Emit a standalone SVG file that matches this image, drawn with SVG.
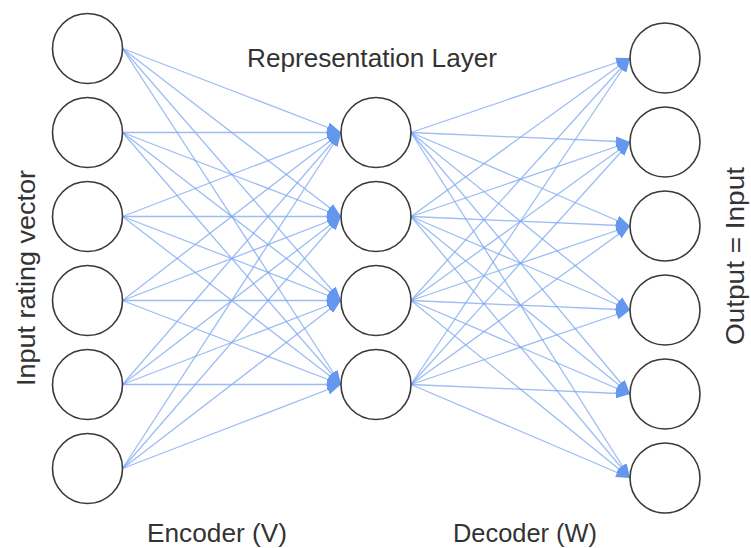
<svg xmlns="http://www.w3.org/2000/svg" width="751" height="548" viewBox="0 0 751 548">
<style>
.node{fill:#fff;stroke:#3a3a3a;stroke-width:1.6}
.edge{stroke:#7ba7f0;stroke-width:1.3;fill:none;stroke-opacity:0.75}
.lbl{font-family:"Liberation Sans",Arial,sans-serif;font-size:25px;fill:#333}
</style>
<defs>
<marker id="arr" markerUnits="userSpaceOnUse" markerWidth="15" markerHeight="11" refX="14" refY="5" orient="auto">
<path d="M0,0 L14,5 L0,10 z" fill="#6497ee"/>
</marker>
</defs>
<rect width="751" height="548" fill="#fff"/>
<g id="connectors">
<g id="encoder-edges" marker-end="url(#arr)">
<line class="edge" x1="122.5" y1="48.5" x2="341" y2="132.5"/><line class="edge" x1="122.5" y1="48.5" x2="341" y2="216.5"/><line class="edge" x1="122.5" y1="48.5" x2="341" y2="300.5"/><line class="edge" x1="122.5" y1="48.5" x2="341" y2="384.5"/>
<line class="edge" x1="122.5" y1="132.5" x2="341" y2="132.5"/><line class="edge" x1="122.5" y1="132.5" x2="341" y2="216.5"/><line class="edge" x1="122.5" y1="132.5" x2="341" y2="300.5"/><line class="edge" x1="122.5" y1="132.5" x2="341" y2="384.5"/>
<line class="edge" x1="122.5" y1="216.5" x2="341" y2="132.5"/><line class="edge" x1="122.5" y1="216.5" x2="341" y2="216.5"/><line class="edge" x1="122.5" y1="216.5" x2="341" y2="300.5"/><line class="edge" x1="122.5" y1="216.5" x2="341" y2="384.5"/>
<line class="edge" x1="122.5" y1="300.5" x2="341" y2="132.5"/><line class="edge" x1="122.5" y1="300.5" x2="341" y2="216.5"/><line class="edge" x1="122.5" y1="300.5" x2="341" y2="300.5"/><line class="edge" x1="122.5" y1="300.5" x2="341" y2="384.5"/>
<line class="edge" x1="122.5" y1="384.5" x2="341" y2="132.5"/><line class="edge" x1="122.5" y1="384.5" x2="341" y2="216.5"/><line class="edge" x1="122.5" y1="384.5" x2="341" y2="300.5"/><line class="edge" x1="122.5" y1="384.5" x2="341" y2="384.5"/>
<line class="edge" x1="122.5" y1="468.5" x2="341" y2="132.5"/><line class="edge" x1="122.5" y1="468.5" x2="341" y2="216.5"/><line class="edge" x1="122.5" y1="468.5" x2="341" y2="300.5"/><line class="edge" x1="122.5" y1="468.5" x2="341" y2="384.5"/>
</g>
<g id="decoder-edges" marker-end="url(#arr)">
<line class="edge" x1="411" y1="132.5" x2="630" y2="58"/><line class="edge" x1="411" y1="132.5" x2="630" y2="142"/><line class="edge" x1="411" y1="132.5" x2="630" y2="226"/><line class="edge" x1="411" y1="132.5" x2="630" y2="310"/><line class="edge" x1="411" y1="132.5" x2="630" y2="394"/><line class="edge" x1="411" y1="132.5" x2="630" y2="478"/>
<line class="edge" x1="411" y1="216.5" x2="630" y2="58"/><line class="edge" x1="411" y1="216.5" x2="630" y2="142"/><line class="edge" x1="411" y1="216.5" x2="630" y2="226"/><line class="edge" x1="411" y1="216.5" x2="630" y2="310"/><line class="edge" x1="411" y1="216.5" x2="630" y2="394"/><line class="edge" x1="411" y1="216.5" x2="630" y2="478"/>
<line class="edge" x1="411" y1="300.5" x2="630" y2="58"/><line class="edge" x1="411" y1="300.5" x2="630" y2="142"/><line class="edge" x1="411" y1="300.5" x2="630" y2="226"/><line class="edge" x1="411" y1="300.5" x2="630" y2="310"/><line class="edge" x1="411" y1="300.5" x2="630" y2="394"/><line class="edge" x1="411" y1="300.5" x2="630" y2="478"/>
<line class="edge" x1="411" y1="384.5" x2="630" y2="58"/><line class="edge" x1="411" y1="384.5" x2="630" y2="142"/><line class="edge" x1="411" y1="384.5" x2="630" y2="226"/><line class="edge" x1="411" y1="384.5" x2="630" y2="310"/><line class="edge" x1="411" y1="384.5" x2="630" y2="394"/><line class="edge" x1="411" y1="384.5" x2="630" y2="478"/>
</g>
</g>
<g id="input-layer">
<g id="in1"><circle class="node" cx="87.5" cy="48.5" r="35"/></g>
<g id="in2"><circle class="node" cx="87.5" cy="132.5" r="35"/></g>
<g id="in3"><circle class="node" cx="87.5" cy="216.5" r="35"/></g>
<g id="in4"><circle class="node" cx="87.5" cy="300.5" r="35"/></g>
<g id="in5"><circle class="node" cx="87.5" cy="384.5" r="35"/></g>
<g id="in6"><circle class="node" cx="87.5" cy="468.5" r="35"/></g>
</g>
<g id="hidden-layer">
<g id="h1"><circle class="node" cx="376" cy="132.5" r="35"/></g>
<g id="h2"><circle class="node" cx="376" cy="216.5" r="35"/></g>
<g id="h3"><circle class="node" cx="376" cy="300.5" r="35"/></g>
<g id="h4"><circle class="node" cx="376" cy="384.5" r="35"/></g>
</g>
<g id="output-layer">
<g id="out1"><circle class="node" cx="665" cy="58" r="35"/></g>
<g id="out2"><circle class="node" cx="665" cy="142" r="35"/></g>
<g id="out3"><circle class="node" cx="665" cy="226" r="35"/></g>
<g id="out4"><circle class="node" cx="665" cy="310" r="35"/></g>
<g id="out5"><circle class="node" cx="665" cy="394" r="35"/></g>
<g id="out6"><circle class="node" cx="665" cy="478" r="35"/></g>
</g>
<g id="labels">
<text class="lbl" x="372" y="67" text-anchor="middle" textLength="250" lengthAdjust="spacingAndGlyphs">Representation Layer</text>
<text class="lbl" x="217" y="542" text-anchor="middle" textLength="140" lengthAdjust="spacingAndGlyphs">Encoder (V)</text>
<text class="lbl" x="525" y="542" text-anchor="middle" textLength="144" lengthAdjust="spacingAndGlyphs">Decoder (W)</text>
<text class="lbl" transform="translate(35,278) rotate(-90)" text-anchor="middle" textLength="216" lengthAdjust="spacingAndGlyphs">Input rating vector</text>
<text class="lbl" transform="translate(744,256) rotate(-90)" text-anchor="middle" textLength="178" lengthAdjust="spacingAndGlyphs">Output = Input</text>
</g>
</svg>
